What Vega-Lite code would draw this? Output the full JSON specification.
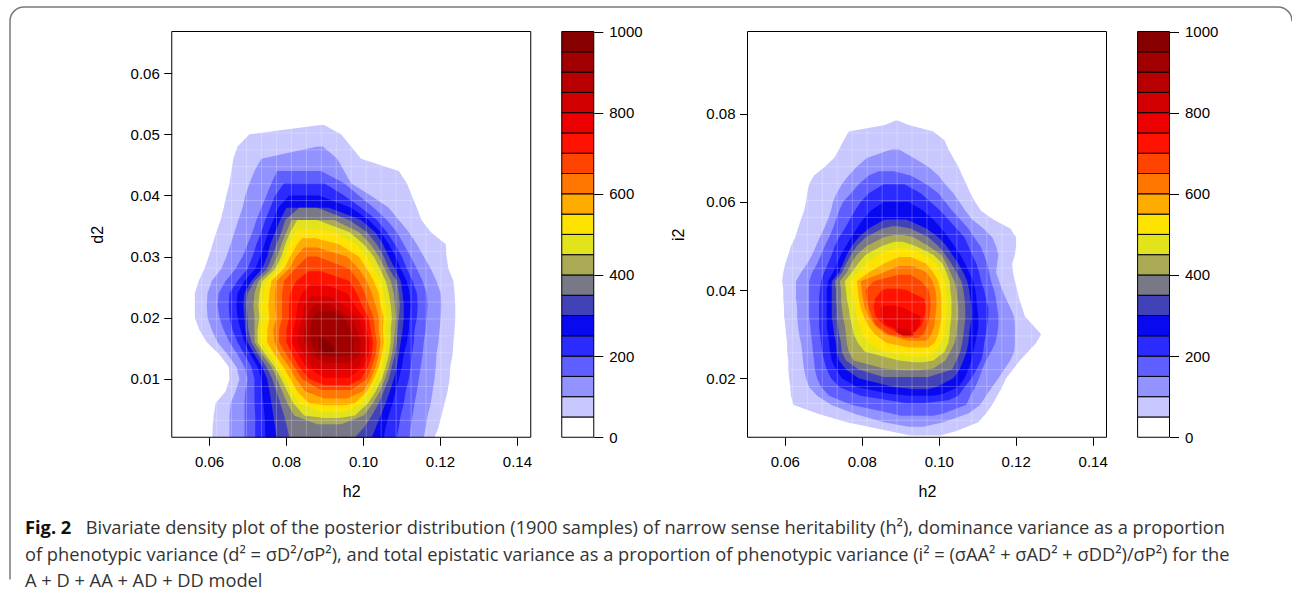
{
  "$schema": "https://vega.github.io/schema/vega-lite/v6.json",
  "padding": {"left": 10, "top": 7, "right": 0, "bottom": 0},
  "background": "white",
  "width": 1282,
  "height": 587,
  "view": {"stroke": "#7a7a7a", "strokeWidth": 1.5, "cornerRadius": 14, "strokeDash": [1276, 1857, 600, 10], "fill": null},
  "config": {
    "axis": {"labelFont": "Liberation Sans", "labelFontSize": 15, "labelColor": "#000", "titleFont": "Liberation Sans", "titleFontSize": 16, "titleFontWeight": "normal", "titleColor": "#000", "tickColor": "#000", "tickWidth": 1, "domain": false, "grid": false, "labelFlush": false}
  },
  "title": {
    "text": "Fig. 2",
    "subtitle": [
      "\u200B\u2003\u2003\u2003\u2009\u2009Bivariate density plot of the posterior distribution (1900 samples) of narrow sense heritability (h²), dominance variance as a proportion",
      "of phenotypic variance (d² = σD²/σP²), and total epistatic variance as a proportion of phenotypic variance (i² = (σAA² + σAD² + σDD²)/σP²) for the",
      "A + D + AA + AD + DD model"
    ],
    "orient": "bottom",
    "anchor": "start",
    "frame": "group",
    "offset": -74,
    "dx": 15,
    "font": "Open Sans",
    "fontSize": 18.25,
    "fontWeight": "bold",
    "color": "#111",
    "subtitleFont": "Open Sans",
    "subtitleFontSize": 18.25,
    "subtitleColor": "#333",
    "subtitleLineHeight": 26.5,
    "subtitlePadding": -18.25
  },
  "datasets": {
    "key": [
      {"lo":0,"hi":50},{"lo":50,"hi":100},{"lo":100,"hi":150},{"lo":150,"hi":200},{"lo":200,"hi":250},
      {"lo":250,"hi":300},{"lo":300,"hi":350},{"lo":350,"hi":400},{"lo":400,"hi":450},{"lo":450,"hi":500},
      {"lo":500,"hi":550},{"lo":550,"hi":600},{"lo":600,"hi":650},{"lo":650,"hi":700},{"lo":700,"hi":750},
      {"lo":750,"hi":800},{"lo":800,"hi":850},{"lo":850,"hi":900},{"lo":900,"hi":950},{"lo":950,"hi":1000}
    ],
    "gridx": [
      {"h2":0.054188},{"h2":0.058075},{"h2":0.061963},{"h2":0.06585},{"h2":0.069738},{"h2":0.073625},{"h2":0.077513},{"h2":0.0814},
      {"h2":0.085288},{"h2":0.089175},{"h2":0.093063},{"h2":0.09695},{"h2":0.100838},{"h2":0.104725},{"h2":0.108613},{"h2":0.1125},
      {"h2":0.116388},{"h2":0.120275},{"h2":0.124163},{"h2":0.12805},{"h2":0.131938},{"h2":0.135825},{"h2":0.139713}
    ],
    "grid1y": [
      {"d2":0.003224},{"d2":0.005988},{"d2":0.008753},{"d2":0.011517},{"d2":0.014281},{"d2":0.017045},{"d2":0.019809},{"d2":0.022573},
      {"d2":0.025338},{"d2":0.028102},{"d2":0.030866},{"d2":0.03363},{"d2":0.036394},{"d2":0.039158},{"d2":0.041923},{"d2":0.044687},
      {"d2":0.047451},{"d2":0.050215},{"d2":0.052979},{"d2":0.055743},{"d2":0.058508},{"d2":0.061272},{"d2":0.064036}
    ],
    "grid2y": [
      {"i2":0.010438},{"i2":0.014275},{"i2":0.018113},{"i2":0.02195},{"i2":0.025788},{"i2":0.029625},{"i2":0.033463},{"i2":0.0373},
      {"i2":0.041138},{"i2":0.044975},{"i2":0.048813},{"i2":0.05265},{"i2":0.056488},{"i2":0.060325},{"i2":0.064163},{"i2":0.068},
      {"i2":0.071838},{"i2":0.075675},{"i2":0.079513},{"i2":0.08335},{"i2":0.087188},{"i2":0.091025},{"i2":0.094863}
    ],
    "p1": [
      {"level":50,"d2":0.0515,"lo":0.0889,"hi":0.0899},{"level":50,"d2":0.050,"lo":0.0705,"hi":0.0943},{"level":50,"d2":0.048,"lo":0.0674,"hi":0.0969},{"level":50,"d2":0.046,"lo":0.0663,"hi":0.0995},{"level":50,"d2":0.044,"lo":0.0658,"hi":0.1093},{"level":50,"d2":0.042,"lo":0.0653,"hi":0.1114},{"level":50,"d2":0.040,"lo":0.0645,"hi":0.1127},{"level":50,"d2":0.038,"lo":0.0638,"hi":0.1140},{"level":50,"d2":0.036,"lo":0.0630,"hi":0.1152},{"level":50,"d2":0.034,"lo":0.0619,"hi":0.1176},{"level":50,"d2":0.032,"lo":0.0609,"hi":0.1215},{"level":50,"d2":0.030,"lo":0.0599,"hi":0.1217},{"level":50,"d2":0.028,"lo":0.0588,"hi":0.1222},{"level":50,"d2":0.026,"lo":0.0573,"hi":0.1235},{"level":50,"d2":0.024,"lo":0.0563,"hi":0.1238},{"level":50,"d2":0.022,"lo":0.0563,"hi":0.1240},{"level":50,"d2":0.020,"lo":0.0563,"hi":0.1240},{"level":50,"d2":0.018,"lo":0.0575,"hi":0.1238},{"level":50,"d2":0.016,"lo":0.0594,"hi":0.1235},{"level":50,"d2":0.014,"lo":0.0627,"hi":0.1233},{"level":50,"d2":0.012,"lo":0.0651,"hi":0.1227},{"level":50,"d2":0.010,"lo":0.0653,"hi":0.1225},{"level":50,"d2":0.008,"lo":0.0643,"hi":0.1220},{"level":50,"d2":0.006,"lo":0.0617,"hi":0.1212},{"level":50,"d2":0.004,"lo":0.0612,"hi":0.1204},{"level":50,"d2":0.002,"lo":0.0609,"hi":0.1196},{"level":50,"d2":0.00046,"lo":0.0609,"hi":0.1186},
      {"level":100,"d2":0.048,"lo":0.0881,"hi":0.0896},{"level":100,"d2":0.046,"lo":0.0736,"hi":0.0933},{"level":100,"d2":0.044,"lo":0.0718,"hi":0.0951},{"level":100,"d2":0.042,"lo":0.0705,"hi":0.0969},{"level":100,"d2":0.040,"lo":0.0694,"hi":0.1020},{"level":100,"d2":0.038,"lo":0.0687,"hi":0.1067},{"level":100,"d2":0.036,"lo":0.0676,"hi":0.1093},{"level":100,"d2":0.034,"lo":0.0666,"hi":0.1119},{"level":100,"d2":0.032,"lo":0.0656,"hi":0.1140},{"level":100,"d2":0.030,"lo":0.0645,"hi":0.1158},{"level":100,"d2":0.028,"lo":0.0632,"hi":0.1176},{"level":100,"d2":0.026,"lo":0.0607,"hi":0.1191},{"level":100,"d2":0.024,"lo":0.0596,"hi":0.1202},{"level":100,"d2":0.022,"lo":0.0594,"hi":0.1204},{"level":100,"d2":0.020,"lo":0.0596,"hi":0.1202},{"level":100,"d2":0.018,"lo":0.0607,"hi":0.1199},{"level":100,"d2":0.016,"lo":0.0622,"hi":0.1196},{"level":100,"d2":0.014,"lo":0.0648,"hi":0.1191},{"level":100,"d2":0.012,"lo":0.0671,"hi":0.1189},{"level":100,"d2":0.010,"lo":0.0679,"hi":0.1186},{"level":100,"d2":0.008,"lo":0.0669,"hi":0.1181},{"level":100,"d2":0.006,"lo":0.0656,"hi":0.1176},{"level":100,"d2":0.004,"lo":0.0653,"hi":0.1168},{"level":100,"d2":0.002,"lo":0.0653,"hi":0.1163},{"level":100,"d2":0.00046,"lo":0.0653,"hi":0.1158},
      {"level":150,"d2":0.044,"lo":0.0777,"hi":0.0891},{"level":150,"d2":0.042,"lo":0.0762,"hi":0.0951},{"level":150,"d2":0.040,"lo":0.0749,"hi":0.0989},{"level":150,"d2":0.038,"lo":0.0736,"hi":0.1028},{"level":150,"d2":0.036,"lo":0.0723,"hi":0.1062},{"level":150,"d2":0.034,"lo":0.0713,"hi":0.1088},{"level":150,"d2":0.032,"lo":0.0700,"hi":0.1106},{"level":150,"d2":0.030,"lo":0.0687,"hi":0.1124},{"level":150,"d2":0.028,"lo":0.0669,"hi":0.1140},{"level":150,"d2":0.026,"lo":0.0643,"hi":0.1155},{"level":150,"d2":0.024,"lo":0.0625,"hi":0.1165},{"level":150,"d2":0.022,"lo":0.0622,"hi":0.1168},{"level":150,"d2":0.020,"lo":0.0627,"hi":0.1165},{"level":150,"d2":0.018,"lo":0.0638,"hi":0.1163},{"level":150,"d2":0.016,"lo":0.0653,"hi":0.1158},{"level":150,"d2":0.014,"lo":0.0674,"hi":0.1155},{"level":150,"d2":0.012,"lo":0.0692,"hi":0.1150},{"level":150,"d2":0.010,"lo":0.0700,"hi":0.1145},{"level":150,"d2":0.008,"lo":0.0694,"hi":0.1140},{"level":150,"d2":0.006,"lo":0.0692,"hi":0.1134},{"level":150,"d2":0.004,"lo":0.0692,"hi":0.1129},{"level":150,"d2":0.002,"lo":0.0692,"hi":0.1124},{"level":150,"d2":0.00046,"lo":0.0692,"hi":0.1121},
      {"level":200,"d2":0.042,"lo":0.0795,"hi":0.0899},{"level":200,"d2":0.040,"lo":0.0772,"hi":0.0951},{"level":200,"d2":0.038,"lo":0.0759,"hi":0.0995},{"level":200,"d2":0.036,"lo":0.0746,"hi":0.1036},{"level":200,"d2":0.034,"lo":0.0736,"hi":0.1062},{"level":200,"d2":0.032,"lo":0.0723,"hi":0.1083},{"level":200,"d2":0.030,"lo":0.0713,"hi":0.1101},{"level":200,"d2":0.028,"lo":0.0700,"hi":0.1114},{"level":200,"d2":0.026,"lo":0.0674,"hi":0.1129},{"level":200,"d2":0.024,"lo":0.0653,"hi":0.1140},{"level":200,"d2":0.022,"lo":0.0651,"hi":0.1142},{"level":200,"d2":0.020,"lo":0.0653,"hi":0.1140},{"level":200,"d2":0.018,"lo":0.0661,"hi":0.1134},{"level":200,"d2":0.016,"lo":0.0674,"hi":0.1132},{"level":200,"d2":0.014,"lo":0.0692,"hi":0.1127},{"level":200,"d2":0.012,"lo":0.0710,"hi":0.1124},{"level":200,"d2":0.010,"lo":0.0718,"hi":0.1119},{"level":200,"d2":0.008,"lo":0.0718,"hi":0.1111},{"level":200,"d2":0.006,"lo":0.0718,"hi":0.1106},{"level":200,"d2":0.004,"lo":0.0720,"hi":0.1098},{"level":200,"d2":0.002,"lo":0.0720,"hi":0.1093},{"level":200,"d2":0.00046,"lo":0.0720,"hi":0.1088},
      {"level":250,"d2":0.040,"lo":0.0808,"hi":0.0886},{"level":250,"d2":0.038,"lo":0.0780,"hi":0.0969},{"level":250,"d2":0.036,"lo":0.0767,"hi":0.1015},{"level":250,"d2":0.034,"lo":0.0754,"hi":0.1046},{"level":250,"d2":0.032,"lo":0.0744,"hi":0.1067},{"level":250,"d2":0.030,"lo":0.0733,"hi":0.1085},{"level":250,"d2":0.028,"lo":0.0720,"hi":0.1098},{"level":250,"d2":0.026,"lo":0.0692,"hi":0.1114},{"level":250,"d2":0.024,"lo":0.0674,"hi":0.1121},{"level":250,"d2":0.022,"lo":0.0671,"hi":0.1124},{"level":250,"d2":0.020,"lo":0.0674,"hi":0.1121},{"level":250,"d2":0.018,"lo":0.0682,"hi":0.1119},{"level":250,"d2":0.016,"lo":0.0692,"hi":0.1114},{"level":250,"d2":0.014,"lo":0.0707,"hi":0.1106},{"level":250,"d2":0.012,"lo":0.0726,"hi":0.1101},{"level":250,"d2":0.010,"lo":0.0736,"hi":0.1093},{"level":250,"d2":0.008,"lo":0.0738,"hi":0.1085},{"level":250,"d2":0.006,"lo":0.0741,"hi":0.1077},{"level":250,"d2":0.004,"lo":0.0744,"hi":0.1067},{"level":250,"d2":0.002,"lo":0.0746,"hi":0.1059},{"level":250,"d2":0.00046,"lo":0.0746,"hi":0.1054},
      {"level":300,"d2":0.038,"lo":0.0801,"hi":0.0912},{"level":300,"d2":0.036,"lo":0.0785,"hi":0.0995},{"level":300,"d2":0.034,"lo":0.0772,"hi":0.1031},{"level":300,"d2":0.032,"lo":0.0759,"hi":0.1052},{"level":300,"d2":0.030,"lo":0.0751,"hi":0.1067},{"level":300,"d2":0.028,"lo":0.0738,"hi":0.1083},{"level":300,"d2":0.026,"lo":0.0710,"hi":0.1098},{"level":300,"d2":0.024,"lo":0.0692,"hi":0.1103},{"level":300,"d2":0.022,"lo":0.0689,"hi":0.1106},{"level":300,"d2":0.020,"lo":0.0692,"hi":0.1106},{"level":300,"d2":0.018,"lo":0.0694,"hi":0.1103},{"level":300,"d2":0.016,"lo":0.0700,"hi":0.1098},{"level":300,"d2":0.014,"lo":0.0718,"hi":0.1093},{"level":300,"d2":0.012,"lo":0.0738,"hi":0.1088},{"level":300,"d2":0.010,"lo":0.0751,"hi":0.1080},{"level":300,"d2":0.008,"lo":0.0757,"hi":0.1070},{"level":300,"d2":0.006,"lo":0.0762,"hi":0.1059},{"level":300,"d2":0.004,"lo":0.0767,"hi":0.1046},{"level":300,"d2":0.002,"lo":0.0772,"hi":0.1033},{"level":300,"d2":0.00046,"lo":0.0775,"hi":0.1023},
      {"level":350,"d2":0.038,"lo":0.0834,"hi":0.0881},{"level":350,"d2":0.036,"lo":0.0798,"hi":0.0964},{"level":350,"d2":0.034,"lo":0.0788,"hi":0.1010},{"level":350,"d2":0.032,"lo":0.0775,"hi":0.1036},{"level":350,"d2":0.030,"lo":0.0764,"hi":0.1054},{"level":350,"d2":0.028,"lo":0.0751,"hi":0.1067},{"level":350,"d2":0.026,"lo":0.0718,"hi":0.1088},{"level":350,"d2":0.024,"lo":0.0700,"hi":0.1093},{"level":350,"d2":0.022,"lo":0.0697,"hi":0.1096},{"level":350,"d2":0.020,"lo":0.0700,"hi":0.1093},{"level":350,"d2":0.018,"lo":0.0702,"hi":0.1090},{"level":350,"d2":0.016,"lo":0.0710,"hi":0.1088},{"level":350,"d2":0.014,"lo":0.0728,"hi":0.1083},{"level":350,"d2":0.012,"lo":0.0749,"hi":0.1075},{"level":350,"d2":0.010,"lo":0.0764,"hi":0.1067},{"level":350,"d2":0.008,"lo":0.0775,"hi":0.1054},{"level":350,"d2":0.006,"lo":0.0785,"hi":0.1041},{"level":350,"d2":0.004,"lo":0.0795,"hi":0.1023},{"level":350,"d2":0.002,"lo":0.0803,"hi":0.1002},{"level":350,"d2":0.00046,"lo":0.0808,"hi":0.0979},
      {"level":400,"d2":0.036,"lo":0.0814,"hi":0.0925},{"level":400,"d2":0.034,"lo":0.0801,"hi":0.0989},{"level":400,"d2":0.032,"lo":0.0788,"hi":0.1020},{"level":400,"d2":0.030,"lo":0.0777,"hi":0.1041},{"level":400,"d2":0.028,"lo":0.0762,"hi":0.1057},{"level":400,"d2":0.026,"lo":0.0728,"hi":0.1072},{"level":400,"d2":0.024,"lo":0.0718,"hi":0.1080},{"level":400,"d2":0.022,"lo":0.0715,"hi":0.1083},{"level":400,"d2":0.020,"lo":0.0718,"hi":0.1085},{"level":400,"d2":0.018,"lo":0.0718,"hi":0.1083},{"level":400,"d2":0.016,"lo":0.0718,"hi":0.1080},{"level":400,"d2":0.014,"lo":0.0738,"hi":0.1075},{"level":400,"d2":0.012,"lo":0.0762,"hi":0.1067},{"level":400,"d2":0.010,"lo":0.0777,"hi":0.1057},{"level":400,"d2":0.008,"lo":0.0790,"hi":0.1044},{"level":400,"d2":0.006,"lo":0.0803,"hi":0.1026},{"level":400,"d2":0.004,"lo":0.0821,"hi":0.1002},{"level":400,"d2":0.0026,"lo":0.0881,"hi":0.0943},
      {"level":450,"d2":0.036,"lo":0.0829,"hi":0.0881},{"level":450,"d2":0.034,"lo":0.0811,"hi":0.0964},{"level":450,"d2":0.032,"lo":0.0798,"hi":0.1002},{"level":450,"d2":0.030,"lo":0.0788,"hi":0.1028},{"level":450,"d2":0.028,"lo":0.0772,"hi":0.1044},{"level":450,"d2":0.026,"lo":0.0738,"hi":0.1059},{"level":450,"d2":0.024,"lo":0.0731,"hi":0.1067},{"level":450,"d2":0.022,"lo":0.0728,"hi":0.1072},{"level":450,"d2":0.020,"lo":0.0731,"hi":0.1075},{"level":450,"d2":0.018,"lo":0.0726,"hi":0.1072},{"level":450,"d2":0.016,"lo":0.0726,"hi":0.1072},{"level":450,"d2":0.014,"lo":0.0746,"hi":0.1067},{"level":450,"d2":0.012,"lo":0.0770,"hi":0.1059},{"level":450,"d2":0.010,"lo":0.0788,"hi":0.1049},{"level":450,"d2":0.008,"lo":0.0803,"hi":0.1033},{"level":450,"d2":0.006,"lo":0.0819,"hi":0.1013},{"level":450,"d2":0.004,"lo":0.0847,"hi":0.0979},{"level":450,"d2":0.0036,"lo":0.0899,"hi":0.0938},
      {"level":500,"d2":0.0345,"lo":0.0834,"hi":0.0881},{"level":500,"d2":0.034,"lo":0.0824,"hi":0.0925},{"level":500,"d2":0.032,"lo":0.0808,"hi":0.0982},{"level":500,"d2":0.030,"lo":0.0798,"hi":0.1010},{"level":500,"d2":0.028,"lo":0.0782,"hi":0.1028},{"level":500,"d2":0.026,"lo":0.0749,"hi":0.1046},{"level":500,"d2":0.024,"lo":0.0741,"hi":0.1054},{"level":500,"d2":0.022,"lo":0.0738,"hi":0.1059},{"level":500,"d2":0.020,"lo":0.0741,"hi":0.1062},{"level":500,"d2":0.018,"lo":0.0736,"hi":0.1059},{"level":500,"d2":0.016,"lo":0.0738,"hi":0.1062},{"level":500,"d2":0.014,"lo":0.0757,"hi":0.1057},{"level":500,"d2":0.012,"lo":0.0780,"hi":0.1049},{"level":500,"d2":0.010,"lo":0.0798,"hi":0.1036},{"level":500,"d2":0.008,"lo":0.0814,"hi":0.1020},{"level":500,"d2":0.006,"lo":0.0834,"hi":0.0995},{"level":500,"d2":0.0046,"lo":0.0891,"hi":0.0951},
      {"level":550,"d2":0.033,"lo":0.0842,"hi":0.0876},{"level":550,"d2":0.032,"lo":0.0829,"hi":0.0938},{"level":550,"d2":0.030,"lo":0.0811,"hi":0.0989},{"level":550,"d2":0.028,"lo":0.0795,"hi":0.1010},{"level":550,"d2":0.026,"lo":0.0762,"hi":0.1028},{"level":550,"d2":0.024,"lo":0.0757,"hi":0.1041},{"level":550,"d2":0.022,"lo":0.0754,"hi":0.1046},{"level":550,"d2":0.020,"lo":0.0757,"hi":0.1054},{"level":550,"d2":0.018,"lo":0.0751,"hi":0.1052},{"level":550,"d2":0.016,"lo":0.0751,"hi":0.1054},{"level":550,"d2":0.014,"lo":0.0770,"hi":0.1049},{"level":550,"d2":0.012,"lo":0.0793,"hi":0.1041},{"level":550,"d2":0.010,"lo":0.0811,"hi":0.1028},{"level":550,"d2":0.008,"lo":0.0829,"hi":0.1010},{"level":550,"d2":0.006,"lo":0.0860,"hi":0.0979},{"level":550,"d2":0.0057,"lo":0.0899,"hi":0.0951},
      {"level":600,"d2":0.0315,"lo":0.0847,"hi":0.0881},{"level":600,"d2":0.030,"lo":0.0826,"hi":0.0958},{"level":600,"d2":0.028,"lo":0.0808,"hi":0.0989},{"level":600,"d2":0.026,"lo":0.0775,"hi":0.1010},{"level":600,"d2":0.024,"lo":0.0772,"hi":0.1023},{"level":600,"d2":0.022,"lo":0.0772,"hi":0.1033},{"level":600,"d2":0.020,"lo":0.0775,"hi":0.1041},{"level":600,"d2":0.018,"lo":0.0767,"hi":0.1041},{"level":600,"d2":0.016,"lo":0.0770,"hi":0.1046},{"level":600,"d2":0.014,"lo":0.0785,"hi":0.1041},{"level":600,"d2":0.012,"lo":0.0808,"hi":0.1033},{"level":600,"d2":0.010,"lo":0.0826,"hi":0.1020},{"level":600,"d2":0.008,"lo":0.0850,"hi":0.1000},{"level":600,"d2":0.0068,"lo":0.0899,"hi":0.0958},
      {"level":650,"d2":0.030,"lo":0.0855,"hi":0.0881},{"level":650,"d2":0.028,"lo":0.0824,"hi":0.0964},{"level":650,"d2":0.026,"lo":0.0795,"hi":0.0989},{"level":650,"d2":0.024,"lo":0.0790,"hi":0.1005},{"level":650,"d2":0.022,"lo":0.0790,"hi":0.1015},{"level":650,"d2":0.020,"lo":0.0790,"hi":0.1028},{"level":650,"d2":0.018,"lo":0.0782,"hi":0.1031},{"level":650,"d2":0.016,"lo":0.0782,"hi":0.1036},{"level":650,"d2":0.014,"lo":0.0801,"hi":0.1033},{"level":650,"d2":0.012,"lo":0.0821,"hi":0.1023},{"level":650,"d2":0.010,"lo":0.0842,"hi":0.1010},{"level":650,"d2":0.0082,"lo":0.0891,"hi":0.0969},
      {"level":700,"d2":0.0276,"lo":0.0860,"hi":0.0891},{"level":700,"d2":0.026,"lo":0.0826,"hi":0.0964},{"level":700,"d2":0.024,"lo":0.0811,"hi":0.0984},{"level":700,"d2":0.022,"lo":0.0808,"hi":0.0997},{"level":700,"d2":0.020,"lo":0.0808,"hi":0.1015},{"level":700,"d2":0.018,"lo":0.0801,"hi":0.1020},{"level":700,"d2":0.016,"lo":0.0801,"hi":0.1026},{"level":700,"d2":0.014,"lo":0.0816,"hi":0.1023},{"level":700,"d2":0.012,"lo":0.0834,"hi":0.1013},{"level":700,"d2":0.010,"lo":0.0860,"hi":0.0995},{"level":700,"d2":0.009,"lo":0.0899,"hi":0.0964},
      {"level":750,"d2":0.0255,"lo":0.0865,"hi":0.0899},{"level":750,"d2":0.024,"lo":0.0842,"hi":0.0958},{"level":750,"d2":0.022,"lo":0.0829,"hi":0.0979},{"level":750,"d2":0.020,"lo":0.0826,"hi":0.1002},{"level":750,"d2":0.018,"lo":0.0819,"hi":0.1010},{"level":750,"d2":0.016,"lo":0.0814,"hi":0.1018},{"level":750,"d2":0.014,"lo":0.0832,"hi":0.1015},{"level":750,"d2":0.012,"lo":0.0852,"hi":0.1002},{"level":750,"d2":0.0102,"lo":0.0899,"hi":0.0964},
      {"level":800,"d2":0.0235,"lo":0.0865,"hi":0.0912},{"level":800,"d2":0.022,"lo":0.0847,"hi":0.0951},{"level":800,"d2":0.020,"lo":0.0842,"hi":0.0989},{"level":800,"d2":0.018,"lo":0.0834,"hi":0.1000},{"level":800,"d2":0.016,"lo":0.0829,"hi":0.1008},{"level":800,"d2":0.014,"lo":0.0847,"hi":0.1005},{"level":800,"d2":0.012,"lo":0.0868,"hi":0.0989},{"level":800,"d2":0.0113,"lo":0.0899,"hi":0.0964},
      {"level":850,"d2":0.0222,"lo":0.0873,"hi":0.0912},{"level":850,"d2":0.020,"lo":0.0855,"hi":0.0969},{"level":850,"d2":0.018,"lo":0.0847,"hi":0.0984},{"level":850,"d2":0.016,"lo":0.0847,"hi":0.0995},{"level":850,"d2":0.014,"lo":0.0865,"hi":0.0992},{"level":850,"d2":0.0126,"lo":0.0899,"hi":0.0964},
      {"level":900,"d2":0.021,"lo":0.0881,"hi":0.0925},{"level":900,"d2":0.020,"lo":0.0868,"hi":0.0951},{"level":900,"d2":0.018,"lo":0.0863,"hi":0.0969},{"level":900,"d2":0.016,"lo":0.0865,"hi":0.0976},{"level":900,"d2":0.014,"lo":0.0881,"hi":0.0974},{"level":900,"d2":0.0137,"lo":0.0907,"hi":0.0958},
      {"level":950,"d2":0.0168,"lo":0.0886,"hi":0.0891},{"level":950,"d2":0.016,"lo":0.0886,"hi":0.0912},{"level":950,"d2":0.015,"lo":0.0886,"hi":0.0927},{"level":950,"d2":0.0142,"lo":0.0901,"hi":0.0922}
    ],
    "p2": [
      {"level":50,"i2":0.0785,"lo":0.0888,"hi":0.0893},{"level":50,"i2":0.0775,"lo":0.0860,"hi":0.0922},{"level":50,"i2":0.076,"lo":0.0766,"hi":0.0986},{"level":50,"i2":0.074,"lo":0.0753,"hi":0.1015},{"level":50,"i2":0.072,"lo":0.0741,"hi":0.1025},{"level":50,"i2":0.070,"lo":0.0728,"hi":0.1038},{"level":50,"i2":0.068,"lo":0.0704,"hi":0.1051},{"level":50,"i2":0.066,"lo":0.0676,"hi":0.1061},{"level":50,"i2":0.064,"lo":0.0663,"hi":0.1072},{"level":50,"i2":0.062,"lo":0.0658,"hi":0.1082},{"level":50,"i2":0.060,"lo":0.0655,"hi":0.1095},{"level":50,"i2":0.058,"lo":0.0650,"hi":0.1110},{"level":50,"i2":0.056,"lo":0.0642,"hi":0.1142},{"level":50,"i2":0.054,"lo":0.0634,"hi":0.1186},{"level":50,"i2":0.052,"lo":0.0627,"hi":0.1201},{"level":50,"i2":0.050,"lo":0.0616,"hi":0.1201},{"level":50,"i2":0.048,"lo":0.0609,"hi":0.1198},{"level":50,"i2":0.046,"lo":0.0601,"hi":0.1191},{"level":50,"i2":0.044,"lo":0.0596,"hi":0.1193},{"level":50,"i2":0.042,"lo":0.0593,"hi":0.1198},{"level":50,"i2":0.040,"lo":0.0596,"hi":0.1204},{"level":50,"i2":0.038,"lo":0.0596,"hi":0.1209},{"level":50,"i2":0.036,"lo":0.0598,"hi":0.1217},{"level":50,"i2":0.034,"lo":0.0598,"hi":0.1224},{"level":50,"i2":0.032,"lo":0.0601,"hi":0.1245},{"level":50,"i2":0.030,"lo":0.0603,"hi":0.1266},{"level":50,"i2":0.028,"lo":0.0606,"hi":0.1253},{"level":50,"i2":0.026,"lo":0.0606,"hi":0.1232},{"level":50,"i2":0.024,"lo":0.0609,"hi":0.1211},{"level":50,"i2":0.022,"lo":0.0609,"hi":0.1193},{"level":50,"i2":0.020,"lo":0.0611,"hi":0.1175},{"level":50,"i2":0.018,"lo":0.0614,"hi":0.1165},{"level":50,"i2":0.016,"lo":0.0616,"hi":0.1152},{"level":50,"i2":0.014,"lo":0.0622,"hi":0.1139},{"level":50,"i2":0.012,"lo":0.0684,"hi":0.1123},{"level":50,"i2":0.010,"lo":0.0761,"hi":0.1103},{"level":50,"i2":0.008,"lo":0.0870,"hi":0.1046},{"level":50,"i2":0.007,"lo":0.0927,"hi":0.1004},
      {"level":100,"i2":0.072,"lo":0.0878,"hi":0.0896},{"level":100,"i2":0.070,"lo":0.0813,"hi":0.0935},{"level":100,"i2":0.068,"lo":0.0787,"hi":0.0973},{"level":100,"i2":0.066,"lo":0.0766,"hi":0.0999},{"level":100,"i2":0.064,"lo":0.0748,"hi":0.1017},{"level":100,"i2":0.062,"lo":0.0735,"hi":0.1038},{"level":100,"i2":0.060,"lo":0.0725,"hi":0.1054},{"level":100,"i2":0.058,"lo":0.0720,"hi":0.1069},{"level":100,"i2":0.056,"lo":0.0712,"hi":0.1087},{"level":100,"i2":0.054,"lo":0.0702,"hi":0.1116},{"level":100,"i2":0.052,"lo":0.0691,"hi":0.1139},{"level":100,"i2":0.050,"lo":0.0681,"hi":0.1149},{"level":100,"i2":0.048,"lo":0.0671,"hi":0.1155},{"level":100,"i2":0.046,"lo":0.0658,"hi":0.1152},{"level":100,"i2":0.044,"lo":0.0642,"hi":0.1149},{"level":100,"i2":0.042,"lo":0.0629,"hi":0.1157},{"level":100,"i2":0.040,"lo":0.0629,"hi":0.1165},{"level":100,"i2":0.038,"lo":0.0629,"hi":0.1175},{"level":100,"i2":0.036,"lo":0.0632,"hi":0.1186},{"level":100,"i2":0.034,"lo":0.0632,"hi":0.1196},{"level":100,"i2":0.032,"lo":0.0634,"hi":0.1198},{"level":100,"i2":0.030,"lo":0.0637,"hi":0.1198},{"level":100,"i2":0.028,"lo":0.0642,"hi":0.1198},{"level":100,"i2":0.026,"lo":0.0645,"hi":0.1196},{"level":100,"i2":0.024,"lo":0.0647,"hi":0.1186},{"level":100,"i2":0.022,"lo":0.0650,"hi":0.1170},{"level":100,"i2":0.020,"lo":0.0655,"hi":0.1155},{"level":100,"i2":0.018,"lo":0.0663,"hi":0.1139},{"level":100,"i2":0.016,"lo":0.0684,"hi":0.1123},{"level":100,"i2":0.014,"lo":0.0720,"hi":0.1108},{"level":100,"i2":0.012,"lo":0.0779,"hi":0.1077},{"level":100,"i2":0.010,"lo":0.0857,"hi":0.1012},{"level":100,"i2":0.009,"lo":0.0922,"hi":0.0960},
      {"level":150,"i2":0.067,"lo":0.0844,"hi":0.0883},{"level":150,"i2":0.066,"lo":0.0818,"hi":0.0927},{"level":150,"i2":0.064,"lo":0.0792,"hi":0.0968},{"level":150,"i2":0.062,"lo":0.0772,"hi":0.0999},{"level":150,"i2":0.060,"lo":0.0751,"hi":0.1017},{"level":150,"i2":0.058,"lo":0.0741,"hi":0.1035},{"level":150,"i2":0.056,"lo":0.0733,"hi":0.1056},{"level":150,"i2":0.054,"lo":0.0725,"hi":0.1077},{"level":150,"i2":0.052,"lo":0.0715,"hi":0.1092},{"level":150,"i2":0.050,"lo":0.0704,"hi":0.1108},{"level":150,"i2":0.048,"lo":0.0694,"hi":0.1118},{"level":150,"i2":0.046,"lo":0.0684,"hi":0.1126},{"level":150,"i2":0.044,"lo":0.0671,"hi":0.1131},{"level":150,"i2":0.042,"lo":0.0663,"hi":0.1136},{"level":150,"i2":0.040,"lo":0.0663,"hi":0.1144},{"level":150,"i2":0.038,"lo":0.0663,"hi":0.1149},{"level":150,"i2":0.036,"lo":0.0663,"hi":0.1152},{"level":150,"i2":0.034,"lo":0.0663,"hi":0.1155},{"level":150,"i2":0.032,"lo":0.0666,"hi":0.1155},{"level":150,"i2":0.030,"lo":0.0668,"hi":0.1152},{"level":150,"i2":0.028,"lo":0.0671,"hi":0.1147},{"level":150,"i2":0.026,"lo":0.0673,"hi":0.1136},{"level":150,"i2":0.024,"lo":0.0676,"hi":0.1123},{"level":150,"i2":0.022,"lo":0.0678,"hi":0.1113},{"level":150,"i2":0.020,"lo":0.0684,"hi":0.1105},{"level":150,"i2":0.018,"lo":0.0694,"hi":0.1095},{"level":150,"i2":0.016,"lo":0.0715,"hi":0.1082},{"level":150,"i2":0.014,"lo":0.0772,"hi":0.1072},{"level":150,"i2":0.012,"lo":0.0878,"hi":0.1012},{"level":150,"i2":0.0115,"lo":0.0901,"hi":0.0986},
      {"level":200,"i2":0.064,"lo":0.0857,"hi":0.0911},{"level":200,"i2":0.062,"lo":0.0818,"hi":0.0953},{"level":200,"i2":0.060,"lo":0.0797,"hi":0.0979},{"level":200,"i2":0.058,"lo":0.0782,"hi":0.1004},{"level":200,"i2":0.056,"lo":0.0769,"hi":0.1025},{"level":200,"i2":0.054,"lo":0.0756,"hi":0.1046},{"level":200,"i2":0.052,"lo":0.0741,"hi":0.1067},{"level":200,"i2":0.050,"lo":0.0730,"hi":0.1077},{"level":200,"i2":0.048,"lo":0.0722,"hi":0.1087},{"level":200,"i2":0.046,"lo":0.0712,"hi":0.1098},{"level":200,"i2":0.044,"lo":0.0702,"hi":0.1105},{"level":200,"i2":0.042,"lo":0.0694,"hi":0.1110},{"level":200,"i2":0.040,"lo":0.0691,"hi":0.1118},{"level":200,"i2":0.038,"lo":0.0689,"hi":0.1123},{"level":200,"i2":0.036,"lo":0.0689,"hi":0.1129},{"level":200,"i2":0.034,"lo":0.0689,"hi":0.1129},{"level":200,"i2":0.032,"lo":0.0689,"hi":0.1126},{"level":200,"i2":0.030,"lo":0.0691,"hi":0.1123},{"level":200,"i2":0.028,"lo":0.0694,"hi":0.1118},{"level":200,"i2":0.026,"lo":0.0697,"hi":0.1116},{"level":200,"i2":0.024,"lo":0.0702,"hi":0.1110},{"level":200,"i2":0.022,"lo":0.0709,"hi":0.1098},{"level":200,"i2":0.020,"lo":0.0720,"hi":0.1085},{"level":200,"i2":0.018,"lo":0.0741,"hi":0.1067},{"level":200,"i2":0.016,"lo":0.0797,"hi":0.1051},{"level":200,"i2":0.015,"lo":0.0870,"hi":0.1025},{"level":200,"i2":0.0143,"lo":0.0916,"hi":0.0960},
      {"level":250,"i2":0.060,"lo":0.0857,"hi":0.0922},{"level":250,"i2":0.058,"lo":0.0823,"hi":0.0960},{"level":250,"i2":0.056,"lo":0.0803,"hi":0.0986},{"level":250,"i2":0.054,"lo":0.0787,"hi":0.1007},{"level":250,"i2":0.052,"lo":0.0772,"hi":0.1025},{"level":250,"i2":0.050,"lo":0.0759,"hi":0.1041},{"level":250,"i2":0.048,"lo":0.0746,"hi":0.1056},{"level":250,"i2":0.046,"lo":0.0735,"hi":0.1069},{"level":250,"i2":0.044,"lo":0.0725,"hi":0.1079},{"level":250,"i2":0.042,"lo":0.0712,"hi":0.1090},{"level":250,"i2":0.040,"lo":0.0709,"hi":0.1095},{"level":250,"i2":0.038,"lo":0.0709,"hi":0.1098},{"level":250,"i2":0.036,"lo":0.0709,"hi":0.1100},{"level":250,"i2":0.034,"lo":0.0709,"hi":0.1103},{"level":250,"i2":0.032,"lo":0.0709,"hi":0.1103},{"level":250,"i2":0.030,"lo":0.0712,"hi":0.1100},{"level":250,"i2":0.028,"lo":0.0715,"hi":0.1095},{"level":250,"i2":0.026,"lo":0.0717,"hi":0.1090},{"level":250,"i2":0.024,"lo":0.0722,"hi":0.1085},{"level":250,"i2":0.022,"lo":0.0733,"hi":0.1077},{"level":250,"i2":0.020,"lo":0.0748,"hi":0.1067},{"level":250,"i2":0.018,"lo":0.0787,"hi":0.1051},{"level":250,"i2":0.0165,"lo":0.0870,"hi":0.1012},{"level":250,"i2":0.016,"lo":0.0922,"hi":0.0986},
      {"level":300,"i2":0.056,"lo":0.0860,"hi":0.0916},{"level":300,"i2":0.054,"lo":0.0818,"hi":0.0968},{"level":300,"i2":0.052,"lo":0.0792,"hi":0.0999},{"level":300,"i2":0.050,"lo":0.0774,"hi":0.1020},{"level":300,"i2":0.048,"lo":0.0761,"hi":0.1035},{"level":300,"i2":0.046,"lo":0.0751,"hi":0.1051},{"level":300,"i2":0.044,"lo":0.0741,"hi":0.1064},{"level":300,"i2":0.042,"lo":0.0722,"hi":0.1074},{"level":300,"i2":0.040,"lo":0.0722,"hi":0.1079},{"level":300,"i2":0.038,"lo":0.0722,"hi":0.1082},{"level":300,"i2":0.036,"lo":0.0722,"hi":0.1085},{"level":300,"i2":0.034,"lo":0.0722,"hi":0.1085},{"level":300,"i2":0.032,"lo":0.0725,"hi":0.1082},{"level":300,"i2":0.030,"lo":0.0728,"hi":0.1079},{"level":300,"i2":0.028,"lo":0.0733,"hi":0.1077},{"level":300,"i2":0.026,"lo":0.0735,"hi":0.1072},{"level":300,"i2":0.024,"lo":0.0741,"hi":0.1064},{"level":300,"i2":0.022,"lo":0.0759,"hi":0.1054},{"level":300,"i2":0.020,"lo":0.0792,"hi":0.1038},{"level":300,"i2":0.018,"lo":0.0883,"hi":0.0994},{"level":300,"i2":0.0175,"lo":0.0935,"hi":0.0973},
      {"level":350,"i2":0.0545,"lo":0.0878,"hi":0.0896},{"level":350,"i2":0.054,"lo":0.0854,"hi":0.0927},{"level":350,"i2":0.052,"lo":0.0810,"hi":0.0973},{"level":350,"i2":0.050,"lo":0.0787,"hi":0.0999},{"level":350,"i2":0.048,"lo":0.0772,"hi":0.1017},{"level":350,"i2":0.046,"lo":0.0759,"hi":0.1033},{"level":350,"i2":0.044,"lo":0.0748,"hi":0.1046},{"level":350,"i2":0.042,"lo":0.0730,"hi":0.1059},{"level":350,"i2":0.040,"lo":0.0733,"hi":0.1064},{"level":350,"i2":0.038,"lo":0.0733,"hi":0.1067},{"level":350,"i2":0.036,"lo":0.0735,"hi":0.1069},{"level":350,"i2":0.034,"lo":0.0735,"hi":0.1069},{"level":350,"i2":0.032,"lo":0.0738,"hi":0.1067},{"level":350,"i2":0.030,"lo":0.0741,"hi":0.1064},{"level":350,"i2":0.028,"lo":0.0746,"hi":0.1061},{"level":350,"i2":0.026,"lo":0.0748,"hi":0.1056},{"level":350,"i2":0.024,"lo":0.0759,"hi":0.1046},{"level":350,"i2":0.022,"lo":0.0792,"hi":0.1035},{"level":350,"i2":0.0203,"lo":0.0857,"hi":0.0973},
      {"level":400,"i2":0.0525,"lo":0.0883,"hi":0.0909},{"level":400,"i2":0.052,"lo":0.0857,"hi":0.0935},{"level":400,"i2":0.050,"lo":0.0813,"hi":0.0973},{"level":400,"i2":0.048,"lo":0.0787,"hi":0.1007},{"level":400,"i2":0.046,"lo":0.0772,"hi":0.1020},{"level":400,"i2":0.044,"lo":0.0761,"hi":0.1030},{"level":400,"i2":0.042,"lo":0.0743,"hi":0.1041},{"level":400,"i2":0.040,"lo":0.0746,"hi":0.1046},{"level":400,"i2":0.038,"lo":0.0746,"hi":0.1048},{"level":400,"i2":0.036,"lo":0.0748,"hi":0.1051},{"level":400,"i2":0.034,"lo":0.0751,"hi":0.1051},{"level":400,"i2":0.032,"lo":0.0756,"hi":0.1048},{"level":400,"i2":0.030,"lo":0.0759,"hi":0.1046},{"level":400,"i2":0.028,"lo":0.0761,"hi":0.1041},{"level":400,"i2":0.026,"lo":0.0766,"hi":0.1030},{"level":400,"i2":0.024,"lo":0.0779,"hi":0.1017},{"level":400,"i2":0.0222,"lo":0.0857,"hi":0.0986},{"level":400,"i2":0.0218,"lo":0.0909,"hi":0.0947},
      {"level":450,"i2":0.051,"lo":0.0885,"hi":0.0906},{"level":450,"i2":0.050,"lo":0.0852,"hi":0.0940},{"level":450,"i2":0.048,"lo":0.0810,"hi":0.0986},{"level":450,"i2":0.046,"lo":0.0790,"hi":0.1010},{"level":450,"i2":0.044,"lo":0.0774,"hi":0.1020},{"level":450,"i2":0.042,"lo":0.0756,"hi":0.1028},{"level":450,"i2":0.040,"lo":0.0759,"hi":0.1030},{"level":450,"i2":0.038,"lo":0.0761,"hi":0.1033},{"level":450,"i2":0.036,"lo":0.0766,"hi":0.1033},{"level":450,"i2":0.034,"lo":0.0769,"hi":0.1033},{"level":450,"i2":0.032,"lo":0.0774,"hi":0.1030},{"level":450,"i2":0.030,"lo":0.0779,"hi":0.1028},{"level":450,"i2":0.028,"lo":0.0790,"hi":0.1025},{"level":450,"i2":0.026,"lo":0.0808,"hi":0.1015},{"level":450,"i2":0.024,"lo":0.0896,"hi":0.0986},{"level":450,"i2":0.0236,"lo":0.0935,"hi":0.0960},
      {"level":500,"i2":0.0495,"lo":0.0891,"hi":0.0916},{"level":500,"i2":0.048,"lo":0.0844,"hi":0.0963},{"level":500,"i2":0.046,"lo":0.0810,"hi":0.0994},{"level":500,"i2":0.044,"lo":0.0792,"hi":0.1004},{"level":500,"i2":0.042,"lo":0.0769,"hi":0.1015},{"level":500,"i2":0.040,"lo":0.0772,"hi":0.1017},{"level":500,"i2":0.038,"lo":0.0777,"hi":0.1020},{"level":500,"i2":0.036,"lo":0.0782,"hi":0.1020},{"level":500,"i2":0.034,"lo":0.0787,"hi":0.1020},{"level":500,"i2":0.032,"lo":0.0795,"hi":0.1017},{"level":500,"i2":0.030,"lo":0.0803,"hi":0.1015},{"level":500,"i2":0.028,"lo":0.0818,"hi":0.1007},{"level":500,"i2":0.026,"lo":0.0857,"hi":0.0991},{"level":500,"i2":0.025,"lo":0.0922,"hi":0.0973},
      {"level":550,"i2":0.0475,"lo":0.0896,"hi":0.0927},{"level":550,"i2":0.046,"lo":0.0857,"hi":0.0968},{"level":550,"i2":0.044,"lo":0.0818,"hi":0.0986},{"level":550,"i2":0.042,"lo":0.0787,"hi":0.0999},{"level":550,"i2":0.040,"lo":0.0790,"hi":0.1004},{"level":550,"i2":0.038,"lo":0.0792,"hi":0.1007},{"level":550,"i2":0.036,"lo":0.0797,"hi":0.1007},{"level":550,"i2":0.034,"lo":0.0805,"hi":0.1007},{"level":550,"i2":0.032,"lo":0.0816,"hi":0.1004},{"level":550,"i2":0.030,"lo":0.0834,"hi":0.0999},{"level":550,"i2":0.028,"lo":0.0865,"hi":0.0989},{"level":550,"i2":0.027,"lo":0.0922,"hi":0.0973},
      {"level":600,"i2":0.0455,"lo":0.0896,"hi":0.0932},{"level":600,"i2":0.044,"lo":0.0857,"hi":0.0968},{"level":600,"i2":0.042,"lo":0.0797,"hi":0.0984},{"level":600,"i2":0.040,"lo":0.0800,"hi":0.0991},{"level":600,"i2":0.038,"lo":0.0803,"hi":0.0994},{"level":600,"i2":0.036,"lo":0.0808,"hi":0.0994},{"level":600,"i2":0.034,"lo":0.0818,"hi":0.0991},{"level":600,"i2":0.032,"lo":0.0834,"hi":0.0989},{"level":600,"i2":0.030,"lo":0.0860,"hi":0.0981},{"level":600,"i2":0.0285,"lo":0.0922,"hi":0.0968},
      {"level":650,"i2":0.0435,"lo":0.0896,"hi":0.0927},{"level":650,"i2":0.042,"lo":0.0831,"hi":0.0955},{"level":650,"i2":0.040,"lo":0.0810,"hi":0.0973},{"level":650,"i2":0.038,"lo":0.0813,"hi":0.0979},{"level":650,"i2":0.036,"lo":0.0818,"hi":0.0979},{"level":650,"i2":0.034,"lo":0.0826,"hi":0.0976},{"level":650,"i2":0.032,"lo":0.0836,"hi":0.0971},{"level":650,"i2":0.030,"lo":0.0870,"hi":0.0960},{"level":650,"i2":0.0292,"lo":0.0909,"hi":0.0947},
      {"level":700,"i2":0.0403,"lo":0.0865,"hi":0.0896},{"level":700,"i2":0.040,"lo":0.0852,"hi":0.0916},{"level":700,"i2":0.038,"lo":0.0834,"hi":0.0963},{"level":700,"i2":0.036,"lo":0.0831,"hi":0.0966},{"level":700,"i2":0.034,"lo":0.0836,"hi":0.0963},{"level":700,"i2":0.032,"lo":0.0857,"hi":0.0955},{"level":700,"i2":0.0303,"lo":0.0896,"hi":0.0937},
      {"level":750,"i2":0.0365,"lo":0.0857,"hi":0.0883},{"level":750,"i2":0.036,"lo":0.0849,"hi":0.0909},{"level":750,"i2":0.034,"lo":0.0849,"hi":0.0953},{"level":750,"i2":0.032,"lo":0.0865,"hi":0.0950},{"level":750,"i2":0.031,"lo":0.0896,"hi":0.0942},{"level":750,"i2":0.0305,"lo":0.0922,"hi":0.0937},
      {"level":800,"i2":0.0315,"lo":0.0888,"hi":0.0896},{"level":800,"i2":0.0305,"lo":0.0888,"hi":0.0932},{"level":800,"i2":0.0295,"lo":0.0909,"hi":0.0935}
    ]
  },
  "resolve": {"scale": {"x": "independent", "y": "independent"}, "axis": {"x": "independent", "y": "independent"}},
  "layer": [
    {
      "layer": [
        {
          "data": {"name": "p1"},
          "mark": {"type": "area", "orient": "horizontal", "interpolate": "linear"},
          "encoding": {
            "y": {"field": "d2", "type": "quantitative", "scale": {"domain": [0.00046, 0.0668], "range": [430.25, 24.5], "nice": false, "zero": false},
                  "axis": {"orient": "left", "offset": -161.75, "values": [0.01, 0.02, 0.03, 0.04, 0.05, 0.06], "format": ".2f", "title": "d2", "titleX": -69, "titleBaseline": "alphabetic", "titleAlign": "center", "titleAngle": -90, "tickSize": 8, "labelPadding": 4.5}},
            "x": {"field": "lo", "type": "quantitative", "stack": null, "scale": {"domain": [0.0503, 0.1436], "range": [161.75, 520.75], "nice": false, "zero": false},
                  "axis": {"orient": "bottom", "offset": -156.75, "values": [0.06, 0.08, 0.1, 0.12, 0.14], "format": ".2f", "title": "h2", "titleY": 59, "titleBaseline": "alphabetic", "labelBaseline": "alphabetic", "labelPadding": 21, "tickSize": 8}},
            "x2": {"field": "hi"},
            "detail": {"field": "level", "type": "nominal"},
            "color": {"field": "level", "type": "quantitative", "legend": null,
                      "scale": {"type": "threshold", "domain": [50,100,150,200,250,300,350,400,450,500,550,600,650,700,750,800,850,900,950],
                                "range": ["#ffffff","#c8c8ff","#9393ff","#5f5fff","#2b2bff","#0909f0","#4242b8","#787886","#aaaa55","#e3e31c","#ffe300","#ffab00","#ff7700","#ff4300","#ff1300","#ec0000","#d20000","#b90000","#a00000","#870000"]}}
          }
        },
        {
          "data": {"name": "gridx"},
          "mark": {"type": "rule", "color": "white", "opacity": 0.3, "strokeWidth": 0.8},
          "encoding": {"x": {"field": "h2", "type": "quantitative"}, "y": {"datum": 0.00046}, "y2": {"datum": 0.0668}}
        },
        {
          "data": {"name": "grid1y"},
          "mark": {"type": "rule", "color": "white", "opacity": 0.3, "strokeWidth": 0.8},
          "encoding": {"y": {"field": "d2", "type": "quantitative"}, "x": {"datum": 0.0503}, "x2": {"datum": 0.1436}}
        },
        {
          "data": {"values": [{}]},
          "mark": {"type": "rect", "filled": false, "stroke": "black", "strokeWidth": 1},
          "encoding": {"x": {"datum": 0.0503}, "x2": {"datum": 0.1436}, "y": {"datum": 0.00046}, "y2": {"datum": 0.0668}}
        }
      ]
    },
    {
      "data": {"name": "key"},
      "mark": {"type": "rect", "stroke": "black", "strokeWidth": 1},
      "encoding": {
        "x": {"datum": 0, "type": "quantitative", "scale": {"domain": [0, 1], "range": [551.75, 583.75]}, "axis": null},
        "x2": {"datum": 1},
        "y": {"field": "lo", "type": "quantitative", "scale": {"domain": [0, 1000], "range": [430.25, 24.5], "nice": false}, "axis": {"orient": "right", "offset": -698.25, "values": [0, 200, 400, 600, 800, 1000], "format": "d", "title": null, "tickSize": 9, "labelPadding": 6}},
        "y2": {"field": "hi"},
        "color": {"field": "lo", "type": "quantitative", "legend": null,
                  "scale": {"type": "threshold", "domain": [50,100,150,200,250,300,350,400,450,500,550,600,650,700,750,800,850,900,950],
                            "range": ["#ffffff","#c8c8ff","#9393ff","#5f5fff","#2b2bff","#0909f0","#4242b8","#787886","#aaaa55","#e3e31c","#ffe300","#ffab00","#ff7700","#ff4300","#ff1300","#ec0000","#d20000","#b90000","#a00000","#870000"]}}
      }
    },
    {
      "layer": [
        {
          "data": {"name": "p2"},
          "mark": {"type": "area", "orient": "horizontal", "interpolate": "linear"},
          "encoding": {
            "y": {"field": "i2", "type": "quantitative", "scale": {"domain": [0.0066, 0.0987], "range": [430.25, 24.5], "nice": false, "zero": false},
                  "axis": {"orient": "left", "offset": -737.5, "values": [0.02, 0.04, 0.06, 0.08], "format": ".2f", "title": "i2", "titleX": -64, "titleBaseline": "alphabetic", "titleAlign": "center", "titleAngle": -90, "tickSize": 8, "labelPadding": 4.5}},
            "x": {"field": "lo", "type": "quantitative", "stack": null, "scale": {"domain": [0.0503, 0.1436], "range": [737.5, 1096.5], "nice": false, "zero": false},
                  "axis": {"orient": "bottom", "offset": -156.75, "values": [0.06, 0.08, 0.1, 0.12, 0.14], "format": ".2f", "title": "h2", "titleY": 59, "titleBaseline": "alphabetic", "labelBaseline": "alphabetic", "labelPadding": 21, "tickSize": 8}},
            "x2": {"field": "hi"},
            "detail": {"field": "level", "type": "nominal"},
            "color": {"field": "level", "type": "quantitative", "legend": null,
                      "scale": {"type": "threshold", "domain": [50,100,150,200,250,300,350,400,450,500,550,600,650,700,750,800,850,900,950],
                                "range": ["#ffffff","#c8c8ff","#9393ff","#5f5fff","#2b2bff","#0909f0","#4242b8","#787886","#aaaa55","#e3e31c","#ffe300","#ffab00","#ff7700","#ff4300","#ff1300","#ec0000","#d20000","#b90000","#a00000","#870000"]}}
          }
        },
        {
          "data": {"name": "gridx"},
          "mark": {"type": "rule", "color": "white", "opacity": 0.3, "strokeWidth": 0.8},
          "encoding": {"x": {"field": "h2", "type": "quantitative"}, "y": {"datum": 0.0066}, "y2": {"datum": 0.0987}}
        },
        {
          "data": {"name": "grid2y"},
          "mark": {"type": "rule", "color": "white", "opacity": 0.3, "strokeWidth": 0.8},
          "encoding": {"y": {"field": "i2", "type": "quantitative"}, "x": {"datum": 0.0503}, "x2": {"datum": 0.1436}}
        },
        {
          "data": {"values": [{}]},
          "mark": {"type": "rect", "filled": false, "stroke": "black", "strokeWidth": 1},
          "encoding": {"x": {"datum": 0.0503}, "x2": {"datum": 0.1436}, "y": {"datum": 0.0066}, "y2": {"datum": 0.0987}}
        }
      ]
    },
    {
      "data": {"name": "key"},
      "mark": {"type": "rect", "stroke": "black", "strokeWidth": 1},
      "encoding": {
        "x": {"datum": 0, "type": "quantitative", "scale": {"domain": [0, 1], "range": [1127.6, 1159.5]}, "axis": null},
        "x2": {"datum": 1},
        "y": {"field": "lo", "type": "quantitative", "scale": {"domain": [0, 1000], "range": [430.25, 24.5], "nice": false}, "axis": {"orient": "right", "offset": -122.5, "values": [0, 200, 400, 600, 800, 1000], "format": "d", "title": null, "tickSize": 9, "labelPadding": 6}},
        "y2": {"field": "hi"},
        "color": {"field": "lo", "type": "quantitative", "legend": null,
                  "scale": {"type": "threshold", "domain": [50,100,150,200,250,300,350,400,450,500,550,600,650,700,750,800,850,900,950],
                            "range": ["#ffffff","#c8c8ff","#9393ff","#5f5fff","#2b2bff","#0909f0","#4242b8","#787886","#aaaa55","#e3e31c","#ffe300","#ffab00","#ff7700","#ff4300","#ff1300","#ec0000","#d20000","#b90000","#a00000","#870000"]}}
      }
    }
  ]
}
